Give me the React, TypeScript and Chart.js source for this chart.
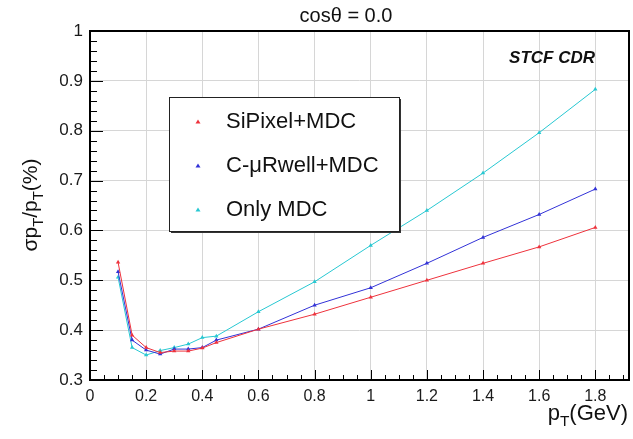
import { useEffect, useRef } from 'react';
import { Chart, registerables } from 'chart.js';

Chart.register(...registerables);

// ---- data ----
const pT = [0.1, 0.15, 0.2, 0.25, 0.3, 0.35, 0.4, 0.45, 0.6, 0.8, 1.0, 1.2, 1.4, 1.6, 1.8];
const siPixelMdc = [0.536, 0.39, 0.365, 0.355, 0.358, 0.358, 0.364, 0.375, 0.402, 0.432, 0.466, 0.5, 0.534, 0.567, 0.606];
const cuRwellMdc = [0.517, 0.38, 0.36, 0.352, 0.362, 0.362, 0.365, 0.38, 0.402, 0.45, 0.485, 0.534, 0.586, 0.632, 0.683];
const onlyMdc = [0.506, 0.365, 0.35, 0.359, 0.365, 0.372, 0.385, 0.388, 0.437, 0.497, 0.57, 0.64, 0.715, 0.796, 0.883];
const seriesLabels = ['SiPixel+MDC', 'C-\u03bcRwell+MDC', 'Only MDC'];
const seriesColors = ['rgb(238,50,60)', 'rgb(50,50,215)', 'rgb(40,200,210)'];
const xTickValues = [0, 0.2, 0.4, 0.6, 0.8, 1, 1.2, 1.4, 1.6, 1.8];
const yTickValues = [0.3, 0.4, 0.5, 0.6, 0.7, 0.8, 0.9, 1];
const titleText = 'cos\u03b8 = 0.0';
const tagText = 'STCF CDR';

const FONT = "'Liberation Sans', Arial, Helvetica, sans-serif";

type Piece = { t: string; sub?: boolean };

function drawPieces(ctx: CanvasRenderingContext2D, pieces: Piece[], size: number, x: number, y: number) {
  let cx = x;
  for (const p of pieces) {
    const fs = p.sub ? size * 0.7 : size;
    ctx.font = `${fs}px ${FONT}`;
    ctx.fillText(p.t, cx, p.sub ? y + size * 0.28 : y);
    cx += ctx.measureText(p.t).width;
  }
}
function piecesWidth(ctx: CanvasRenderingContext2D, pieces: Piece[], size: number) {
  let w = 0;
  for (const p of pieces) {
    ctx.font = `${p.sub ? size * 0.7 : size}px ${FONT}`;
    w += ctx.measureText(p.t).width;
  }
  return w;
}

const decorPlugin = {
  id: 'decor',
  afterDatasetsDraw(chart: any) {
    const ctx: CanvasRenderingContext2D = chart.ctx;
    const { left, right, top, bottom } = chart.chartArea;
    const xs = chart.scales.x;
    const ys = chart.scales.y;
    ctx.save();
    ctx.strokeStyle = '#000';
    ctx.lineWidth = 1;
    ctx.beginPath();
    for (let i = 0; i <= 35; i++) {
      const v = 0.3 + i * 0.02;
      const py = Math.round(ys.getPixelForValue(v)) + 0.5;
      const len = i % 5 === 0 ? 13 : 7;
      ctx.moveTo(left, py);
      ctx.lineTo(left + len, py);
    }
    for (let i = 0; i <= 38; i++) {
      const v = i * 0.05;
      const px = Math.round(xs.getPixelForValue(v)) + 0.5;
      const len = i % 4 === 0 ? 10 : 5;
      ctx.moveTo(px, bottom);
      ctx.lineTo(px, bottom - len);
    }
    ctx.stroke();
    ctx.lineWidth = 2;
    ctx.strokeRect(left, top, right - left, bottom - top);
    ctx.restore();
  },
  afterDraw(chart: any) {
    const ctx: CanvasRenderingContext2D = chart.ctx;
    ctx.save();
    ctx.fillStyle = '#111';
    ctx.font = `20px ${FONT}`;
    ctx.textAlign = 'center';
    ctx.textBaseline = 'middle';
    ctx.fillText(titleText, 346, 16);
    ctx.font = `italic bold 17px ${FONT}`;
    ctx.textAlign = 'right';
    ctx.fillText(tagText, 595, 58);

    // legend
    const lx = 169, ly = 97, lw = 230, lh = 134;
    ctx.fillStyle = '#333';
    ctx.fillRect(lx + 2, ly + 2, lw, lh);
    ctx.fillStyle = '#fff';
    ctx.fillRect(lx, ly, lw, lh);
    ctx.strokeStyle = '#222';
    ctx.lineWidth = 1;
    ctx.strokeRect(lx + 0.5, ly + 0.5, lw, lh);
    const rows = [122, 166, 210];
    chart.data.datasets.forEach((ds: any, i: number) => {
      const cy = rows[i];
      ctx.fillStyle = ds.borderColor;
      ctx.beginPath();
      ctx.moveTo(198, cy - 2.5);
      ctx.lineTo(200.5, cy + 1.5);
      ctx.lineTo(195.5, cy + 1.5);
      ctx.closePath();
      ctx.fill();
      ctx.fillStyle = '#111';
      ctx.font = `22px ${FONT}`;
      ctx.textAlign = 'left';
      ctx.textBaseline = 'middle';
      ctx.fillText(ds.label, 226, cy);
    });

    // axis titles
    ctx.fillStyle = '#111';
    ctx.textAlign = 'left';
    ctx.textBaseline = 'alphabetic';
    const yPieces: Piece[] = [{ t: '\u03c3p' }, { t: 'T', sub: true }, { t: '/p' }, { t: 'T', sub: true }, { t: '(%)' }];
    const ySize = 21;
    const yw = piecesWidth(ctx, yPieces, ySize);
    ctx.save();
    ctx.translate(37, 205);
    ctx.rotate(-Math.PI / 2);
    drawPieces(ctx, yPieces, ySize, -yw / 2, 0);
    ctx.restore();

    const xPieces: Piece[] = [{ t: 'p' }, { t: 'T', sub: true }, { t: '(GeV)' }];
    const xSize = 22;
    const xw = piecesWidth(ctx, xPieces, xSize);
    drawPieces(ctx, xPieces, xSize, 628 - xw, 420);
    ctx.restore();
  },
};

export default function App() {
  const ref = useRef<HTMLCanvasElement | null>(null);
  useEffect(() => {
    if (!ref.current) return;
    const series = [siPixelMdc, cuRwellMdc, onlyMdc];
    const chart = new Chart(ref.current, {
      type: 'line',
      data: {
        datasets: series.map((vals, i) => ({
          label: seriesLabels[i],
          data: pT.map((x, j) => ({ x, y: vals[j] })),
          borderColor: seriesColors[i],
          backgroundColor: seriesColors[i],
          borderWidth: 1,
          pointStyle: 'triangle',
          pointRadius: 2.5,
          pointBorderWidth: 0,
          tension: 0,
          fill: false,
        })),
      },
      options: {
        responsive: false,
        animation: false,
        devicePixelRatio: 1,
        layout: { padding: { top: 31, right: 4, left: 0, bottom: 0 } },
        plugins: { legend: { display: false }, title: { display: false }, tooltip: { enabled: false } },
        scales: {
          x: {
            type: 'linear',
            min: 0,
            max: 1.92,
            afterBuildTicks: (s: any) => {
              s.ticks = xTickValues.map((v) => ({ value: v }));
            },
            afterFit: (s: any) => {
              s.height = 59;
            },
            grid: { color: '#d6d6d6', lineWidth: 1, drawTicks: false },
            border: { display: false },
            ticks: {
              color: '#1a1a1a',
              font: { family: FONT, size: 16 },
              padding: 7,
              maxRotation: 0,
              callback: (v: any) => String(Math.round(Number(v) * 10) / 10),
            },
          },
          y: {
            type: 'linear',
            min: 0.3,
            max: 1,
            afterBuildTicks: (s: any) => {
              s.ticks = yTickValues.map((v) => ({ value: v }));
            },
            afterFit: (s: any) => {
              s.width = 90;
            },
            grid: { color: '#d6d6d6', lineWidth: 1, drawTicks: false },
            border: { display: false },
            ticks: {
              color: '#1a1a1a',
              font: { family: FONT, size: 17 },
              padding: 7,
              callback: (v: any) => String(Math.round(Number(v) * 10) / 10),
            },
          },
        },
      },
      plugins: [decorPlugin],
    } as any);
    return () => chart.destroy();
  }, []);
  return (
    <div style={{ position: 'fixed', left: 0, top: 0, width: 633, height: 439, background: '#fff' }}>
      <canvas ref={ref} width={633} height={439} />
    </div>
  );
}
